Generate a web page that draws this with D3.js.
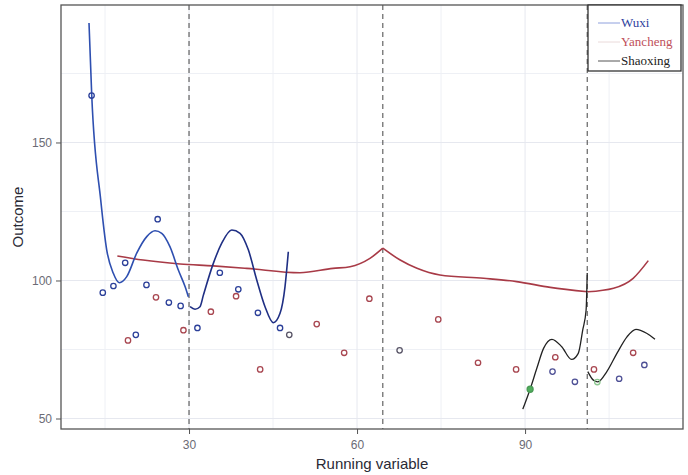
<!DOCTYPE html>
<html>
<head>
<meta charset="utf-8">
<script src="https://cdnjs.cloudflare.com/ajax/libs/d3/7.8.5/d3.min.js"></script>
<style>
body { margin: 0; background: #fff; }
svg { display: block; }
</style>
</head>
<body>
<svg width="688" height="475"></svg>
<script>
// axis ticks
var xTicks = [30, 60, 90];
var xMinor = [15, 45, 75, 105];
var yTicks = [50, 100, 150];
var yMinor = [75, 125, 175];
var cutoffs = [30, 64.6, 101.1];

// observed points (x, y)
var wuxiPts = [[12.6, 167.0], [14.6, 95.6], [16.5, 98.0], [18.6, 106.4], [20.5, 80.3], [22.4, 98.4],
	[24.4, 122.2], [26.4, 92.0], [28.5, 90.8], [31.5, 82.8], [35.5, 102.8], [38.8, 96.8],
	[42.3, 88.3], [46.25, 82.8]];
var yanchengPts = [[19.1, 78.3], [24.1, 93.9], [29.0, 82.0], [33.9, 88.7], [38.4, 94.3], [42.7, 67.8],
	[52.8, 84.2], [57.7, 73.8], [62.2, 93.4], [74.5, 85.9], [81.6, 70.2], [88.4, 67.8],
	[95.4, 72.2], [102.3, 67.8], [109.3, 73.8]];
var shaoxingPts = [[94.9, 67.0], [98.9, 63.3], [106.8, 64.4], [111.3, 69.4]];
var greyPts = [[47.9, 80.3], [67.6, 74.7]];
var greenPts = [[90.9, 60.6]];
var greenHollow = [[102.9, 63.2]];

// fitted curves
var wuxiLeft = [[12.14, 193.3], [12.63, 167.0], [14.23, 129.2], [15.3, 111.1], [16.48, 102.6], [17.55, 99.2],
	[18.88, 101.4], [20.66, 109.9], [22.45, 115.9], [23.93, 118.0], [25.13, 117.1], [26.61, 112.2],
	[28.09, 103.8], [29.29, 97.8], [29.88, 94.1]];
var wuxiRight = [[30.18, 90.5], [31.07, 89.6], [31.96, 90.5], [32.55, 94.6], [34.34, 106.2], [35.84, 113.5],
	[37.63, 118.3], [39.11, 117.1], [40.59, 111.1], [42.09, 100.2], [43.57, 90.5], [45.05, 84.7],
	[46.25, 88.1], [47.14, 97.8], [47.73, 110.4]];
var yanchengA = [[17.2, 108.9], [21.8, 107.4], [28.4, 106.0], [34.3, 105.3], [40.3, 104.4], [49.8, 102.8],
	[55.7, 104.4], [58.75, 105.0], [62.3, 108.0], [64.6, 111.7]];
var yanchengB = [[64.6, 111.7], [67.7, 107.4], [70.7, 104.4], [74.8, 102.0], [82.6, 100.8], [88.5, 99.6],
	[94.5, 97.5], [101.2, 95.9]];
var yanchengC = [[101.2, 95.9], [105.8, 97.2], [109.3, 100.8], [112.0, 107.2]];
var shaoxingLeft = [[89.6, 53.4], [90.9, 60.6], [92.1, 68.2], [93.3, 75.4], [94.8, 78.7], [96.55, 76.0],
	[98.3, 71.4], [99.5, 73.6], [100.3, 82.1], [100.9, 89.3], [101.1, 102.7]];
var shaoxingRight = [[101.2, 67.0], [102.2, 63.9], [103.0, 63.3], [104.6, 67.0], [106.4, 73.6], [108.2, 79.6],
	[109.8, 82.3], [111.7, 80.9], [113.2, 78.7]];

var legendNames = ["Wuxi", "Yancheng", "Shaoxing"];

var svg = d3.select("svg"),
	width = +svg.attr("width"),
	height = +svg.attr("height");

var margin = {top: 5, right: 5, bottom: 46, left: 61};
var w = width - margin.left - margin.right,
	h = height - margin.top - margin.bottom;

var x = d3.scaleLinear().domain([7.14, 118.2]).range([0, w]);
var y = d3.scaleLinear().domain([46.2, 199.8]).range([h, 0]);

var g = svg.append("g").attr("transform", "translate(" + margin.left + "," + margin.top + ")");

// faint grid
g.selectAll(".vminor").data(xMinor).enter().append("line")
	.attr("x1", function(d) { return x(d); }).attr("x2", function(d) { return x(d); })
	.attr("y1", 0).attr("y2", h)
	.attr("stroke", "#eef0f5").attr("stroke-width", 1);
g.selectAll(".hminor").data(yMinor).enter().append("line")
	.attr("y1", function(d) { return y(d); }).attr("y2", function(d) { return y(d); })
	.attr("x1", 0).attr("x2", w)
	.attr("stroke", "#eef0f5").attr("stroke-width", 1);
g.selectAll(".vmajor").data(xTicks).enter().append("line")
	.attr("x1", function(d) { return x(d); }).attr("x2", function(d) { return x(d); })
	.attr("y1", 0).attr("y2", h)
	.attr("stroke", "#e6e8ef").attr("stroke-width", 1);
g.selectAll(".hmajor").data(yTicks).enter().append("line")
	.attr("y1", function(d) { return y(d); }).attr("y2", function(d) { return y(d); })
	.attr("x1", 0).attr("x2", w)
	.attr("stroke", "#e6e8ef").attr("stroke-width", 1);

// cutoff lines
g.selectAll(".cut").data(cutoffs).enter().append("line")
	.attr("x1", function(d) { return x(d); }).attr("x2", function(d) { return x(d); })
	.attr("y1", 0).attr("y2", h)
	.attr("stroke", "#555").attr("stroke-width", 1.1)
	.attr("stroke-dasharray", "5,4");

var line = d3.line()
	.x(function(d) { return x(d[0]); })
	.y(function(d) { return y(d[1]); })
	.curve(d3.curveMonotoneX);

function drawLine(data, color, sw) {
	g.append("path").datum(data)
		.attr("fill", "none")
		.attr("stroke", color)
		.attr("stroke-width", sw)
		.attr("stroke-linejoin", "round")
		.attr("d", line);
}

// red fit is split at the cutoffs so the kinks stay sharp
drawLine(yanchengA, "#a83a46", 1.6);
drawLine(yanchengB, "#a83a46", 1.6);
drawLine(yanchengC, "#a83a46", 1.6);
drawLine(wuxiLeft, "#2e4fb0", 1.6);
drawLine(wuxiRight, "#1f2f84", 1.6);
drawLine(shaoxingLeft, "#222", 1.3);
drawLine(shaoxingRight, "#222", 1.3);

function drawPts(data, stroke, fill, r) {
	g.append("g").selectAll("circle").data(data).enter().append("circle")
		.attr("cx", function(d) { return x(d[0]); })
		.attr("cy", function(d) { return y(d[1]); })
		.attr("r", r)
		.attr("fill", fill)
		.attr("stroke", stroke)
		.attr("stroke-width", 1.3);
}

drawPts(wuxiPts, "#2b3f99", "none", 2.7);
drawPts(yanchengPts, "#a84650", "none", 2.7);
drawPts(shaoxingPts, "#4d4f95", "none", 2.7);
drawPts(greyPts, "#585466", "none", 2.7);
drawPts(greenPts, "#4a9a55", "#4fae5c", 3);
drawPts(greenHollow, "#8cc890", "none", 2.7);

// panel border
g.append("rect").attr("width", w).attr("height", h)
	.attr("fill", "none").attr("stroke", "#555").attr("stroke-width", 1.3);

// axes
var xAxis = g.append("g").attr("transform", "translate(0," + h + ")")
	.call(d3.axisBottom(x).tickValues(xTicks).tickSize(5).tickPadding(6));
var yAxis = g.append("g")
	.call(d3.axisLeft(y).tickValues(yTicks).tickSize(5).tickPadding(4));
[xAxis, yAxis].forEach(function(a) {
	a.select(".domain").remove();
	a.selectAll("line").attr("stroke", "#555");
	a.selectAll("text").attr("fill", "#6b6b75")
		.style("font-family", "'Liberation Sans', Arial, sans-serif")
		.style("font-size", "12px");
});

svg.append("text")
	.attr("x", margin.left + w / 2).attr("y", 469)
	.attr("text-anchor", "middle")
	.style("font-family", "'Liberation Sans', Arial, sans-serif")
	.style("font-size", "15px").attr("fill", "#2a2a35")
	.text("Running variable");

svg.append("text")
	.attr("transform", "translate(23," + (margin.top + h / 2) + ") rotate(-90)")
	.attr("text-anchor", "middle")
	.style("font-family", "'Liberation Sans', Arial, sans-serif")
	.style("font-size", "15px").attr("fill", "#2a2a35")
	.text("Outcome");

// legend
var legend = svg.append("g").attr("transform", "translate(588,5)");
legend.append("rect").attr("width", 93).attr("height", 66)
	.attr("fill", "#fff").attr("stroke", "#333").attr("stroke-width", 1.3);
var legLine = ["#8ea0dd", "#eadada", "#555"];
var legText = ["#2e3f9e", "#c0505a", "#222"];
var item = legend.selectAll(".item").data(legendNames).enter().append("g")
	.attr("transform", function(d, i) { return "translate(0," + (18 + i * 19) + ")"; });
item.append("line").attr("x1", 10).attr("x2", 32).attr("y1", 0).attr("y2", 0)
	.attr("stroke", function(d, i) { return legLine[i]; }).attr("stroke-width", 1);
item.append("text").attr("x", 33).attr("y", 4)
	.style("font-family", "'Liberation Serif', 'Times New Roman', serif")
	.style("font-size", "13px")
	.attr("fill", function(d, i) { return legText[i]; })
	.text(function(d) { return d; });
</script>
</body>
</html>
